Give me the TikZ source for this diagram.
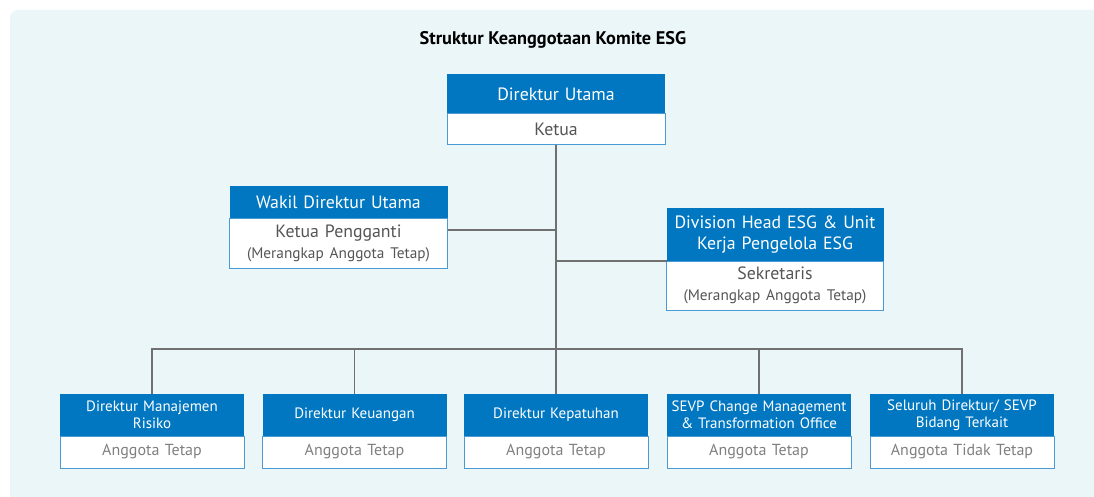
\documentclass[tikz,border=0pt]{standalone}
\usepackage{fontspec}
\setmainfont{PT Sans}
\usetikzlibrary{calc, positioning}
\definecolor{esgblue}{HTML}{0077C0}
\definecolor{esgline}{HTML}{4A9AD4}
\definecolor{esgbg}{HTML}{EBF6F9}
\definecolor{esgtext}{HTML}{555555}
\definecolor{esggrey}{HTML}{808080}
\definecolor{esgconn}{HTML}{707070}
\newcommand\headfont{\fontsize{17.8}{21}\selectfont}
\newcommand\smallfont{\fontsize{15.3}{18}\selectfont}
\newcommand\orgbox[8]{\node[headbox, text width=#4pt, minimum height=#5pt, anchor=north] (#1-h) at (#2,#3) {#7};\node[rolebox, text width=#4pt, minimum height=#6pt, below=0pt of #1-h] (#1) {#8};}
\tikzset{
  headbox/.style={fill=esgblue, text=white, align=center, inner sep=0pt, outer sep=0pt, font=\headfont},
  rolebox/.style={draw=esgline, fill=white, text=esgtext, align=center, inner sep=0pt, outer sep=0pt, line width=1pt, font=\headfont},
  link/.style={draw=esgconn, line width=1.2pt}
}

\begin{document}
\begin{tikzpicture}[x=1pt, y=-1pt]
\useasboundingbox (0,0) rectangle (1094,497);
\fill[esgbg, rounded corners=8pt] (10,10) rectangle (1110,510);

\node[font=\bfseries\fontsize{18.3}{22}\selectfont] (title) at (553,40) {Struktur Keanggotaan Komite ESG};

%\orgbox{name}{x}{y}{width}{head}{body}{title}{role}
\orgbox{du}{556}{74}{218}{40}{31}{Direktur Utama}{Ketua};
\orgbox{wk}{338.5}{186}{218}{32}{50}{Wakil Direktur Utama}{Ketua Pengganti\\{\smallfont (Merangkap Anggota Tetap)}};
\orgbox{dh}{775}{208}{217}{53}{49}{Division Head ESG \& Unit\\Kerja Pengelola ESG}{Sekretaris\\{\smallfont (Merangkap Anggota Tetap)}};

\begin{scope}[headbox/.append style={font=\fontsize{15}{17}\selectfont}, rolebox/.append style={text=esggrey, font=\fontsize{16}{19}\selectfont}]
\orgbox{b1}{152}{394}{184}{42}{32}{Direktur Manajemen\\Risiko}{Anggota Tetap};
\orgbox{b2}{354.5}{394}{184}{42}{32}{Direktur Keuangan}{Anggota Tetap};
\orgbox{b3}{556}{394}{184}{42}{32}{Direktur Kepatuhan}{Anggota Tetap};
\orgbox{b4}{759}{394}{184}{42}{32}{SEVP Change Management\\\& Transformation Office}{Anggota Tetap};
\orgbox{b5}{962}{394}{184}{42}{32}{Seluruh Direktur/ SEVP\\Bidang Terkait}{Anggota Tidak Tetap};
\end{scope}

\coordinate (bar) at (556,349);
\coordinate (wkj) at ($(wk-h.south east)+(0,12)$);
\draw[link] (du.south) -- (bar);
\draw[link] (wkj) -- (wkj -| bar);
\draw[link] (dh-h.south west) -- (dh-h.south west -| bar);
\foreach \n in {b1,b2,b3,b4,b5}
  \draw[link] (\n-h.north) |- (bar);

\end{tikzpicture}
\end{document}
